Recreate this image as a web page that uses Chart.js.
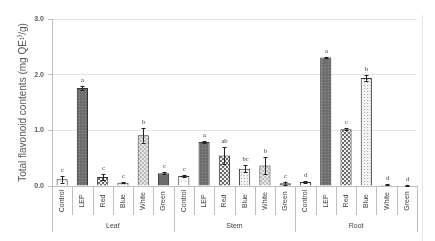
<!DOCTYPE html>
<html><head><meta charset="utf-8">
<script src="https://cdn.jsdelivr.net/npm/chart.js@4"></script>
<style>html,body{margin:0;padding:0;background:#fff}#w{width:435px;height:241px;position:relative}</style>
</head><body><div id="w"><canvas id="c"></canvas></div>
<script>
const groups = ["Leaf", "Stem", "Root"];
const treatments = ["Control", "LEP", "Red", "Blue", "White", "Green"];
const leafValues = [0.12, 1.76, 0.16, 0.06, 0.91, 0.23];
const stemValues = [0.18, 0.79, 0.55, 0.31, 0.37, 0.05];
const rootValues = [0.07, 2.31, 1.02, 1.94, 0.02, 0.01];
const leafErrors = [0.06, 0.04, 0.05, 0.01, 0.13, 0.02];
const stemErrors = [0.02, 0.01, 0.15, 0.06, 0.15, 0.03];
const rootErrors = [0.02, 0.01, 0.02, 0.05, 0.01, 0.01];
const leafLetters = ["c", "a", "c", "c", "b", "c"];
const stemLetters = ["c", "a", "ab", "bc", "b", "c"];
const rootLetters = ["d", "a", "c", "b", "d", "d"];
const yTicks = [0, 1, 2, 3];

const labels = [], values = [], errors = [], letters = [];
[[leafValues, leafErrors, leafLetters], [stemValues, stemErrors, stemLetters], [rootValues, rootErrors, rootLetters]].forEach((g, gi) => {
  treatments.forEach((t, i) => { labels.push(groups[gi] + " " + t); values.push(g[0][i]); errors.push(g[1][i]); letters.push(g[2][i]); });
});

function pat(size, bg, draw) {
  const c = document.createElement('canvas'); c.width = size; c.height = size;
  const x = c.getContext('2d'); x.fillStyle = bg; x.fillRect(0, 0, size, size); draw(x);
  return x.createPattern(c, 'repeat');
}
const ctx0 = document.getElementById('c').getContext('2d');
const fills = [
  pat(4, '#ffffff', x => { x.fillStyle = '#c8c8c8'; x.fillRect(1, 1, 1, 1); }),
  pat(3, '#6e6e6e', x => { x.fillStyle = '#8e8e8e'; x.fillRect(1, 1, 1, 1); }),
  pat(4, '#f0f0f0', x => { x.fillStyle = '#6a6a6a'; x.fillRect(0, 0, 2, 2); x.fillRect(2, 2, 2, 2); }),
  pat(3, '#f2f2f2', x => { x.fillStyle = '#b0b0b0'; x.fillRect(1, 1, 1, 1); }),
  pat(4, '#e4e4e4', x => { x.fillStyle = '#bdbdbd'; x.fillRect(0, 0, 2, 2); x.fillRect(2, 2, 2, 2); }),
  '#6b6b6b'
];
const bg = values.map((v, i) => fills[i % 6]);

const overlay = {
  id: 'overlay',
  afterDatasetsDraw(chart) {
    const c = chart.ctx, xs = chart.scales.x, ys = chart.scales.y;
    c.save();
    c.strokeStyle = '#222'; c.lineWidth = 1;
    values.forEach((v, i) => {
      const x = Math.round(xs.getPixelForValue(i)) + 0.5;
      const yt = ys.getPixelForValue(v + errors[i]), yb = ys.getPixelForValue(Math.max(0, v - errors[i]));
      c.beginPath(); c.moveTo(x, yt); c.lineTo(x, yb);
      c.moveTo(x - 2, Math.round(yt) + 0.5); c.lineTo(x + 2, Math.round(yt) + 0.5);
      c.moveTo(x - 2, Math.round(yb) + 0.5); c.lineTo(x + 2, Math.round(yb) + 0.5);
      c.stroke();
      c.fillStyle = '#333'; c.font = '6.5px "Liberation Serif"'; c.textAlign = 'center'; c.textBaseline = 'alphabetic';
      c.fillText(letters[i], x, yt - 4);
    });
    const step = xs.getPixelForValue(1) - xs.getPixelForValue(0);
    const y0 = chart.chartArea.bottom;
    c.strokeStyle = '#bfbfbf';
    for (let i = 0; i <= values.length; i++) {
      const x = Math.round(xs.getPixelForValue(i) - step / 2) + 0.5;
      const long = i % 6 === 0;
      c.beginPath(); c.moveTo(x, y0); c.lineTo(x, long ? y0 + 46 : y0 + 29); c.stroke();
    }
    c.fillStyle = '#404040'; c.font = '7px "Liberation Sans"';
    values.forEach((v, i) => {
      const x = xs.getPixelForValue(i);
      c.save(); c.translate(x, y0 + 15); c.rotate(-Math.PI / 2);
      c.textAlign = 'center'; c.textBaseline = 'middle'; c.fillText(treatments[i % 6], 0, 0); c.restore();
    });
    c.font = '7px "Liberation Sans"'; c.textAlign = 'center'; c.textBaseline = 'middle';
    groups.forEach((g, gi) => {
      const x = (xs.getPixelForValue(gi * 6) + xs.getPixelForValue(gi * 6 + 5)) / 2;
      c.fillText(g, x, y0 + 40);
    });
    c.strokeStyle = '#e6e6e6';
    c.beginPath(); c.moveTo(422.5, 15); c.lineTo(422.5, 241); c.stroke();
    c.restore();
  }
};

new Chart(ctx0, {
  type: 'bar',
  data: { labels, datasets: [{ data: values, backgroundColor: bg, borderColor: '#333', borderWidth: 1, barPercentage: 0.55, categoryPercentage: 1 }] },
  options: {
    responsive: true, maintainAspectRatio: false, animation: false,
    layout: { padding: { top: 19, right: 18, left: 0, bottom: 0 } },
    plugins: { legend: { display: false }, tooltip: { enabled: false } },
    scales: {
      x: {
        ticks: { display: false }, grid: { display: false },
        border: { display: true, color: '#bfbfbf' },
        afterFit(s) { s.height = 55; }
      },
      y: {
        min: 0, max: 3,
        afterBuildTicks(s) { s.ticks = yTicks.map(v => ({ value: v })); },
        ticks: { callback: v => v.toFixed(1), color: '#595959', font: { family: 'Liberation Sans', size: 7, weight: 'bold' }, padding: 4 },
        grid: { color: '#e3e3e3', tickColor: '#bfbfbf', tickLength: 4 },
        border: { display: true, color: '#bfbfbf' },
        title: { display: true, text: 'Total flavonoid contents (mg QE\u00b9\u207e/g)', color: '#595959', font: { family: 'Liberation Sans', size: 10 }, padding: { top: 17, bottom: 0 } },
        afterFit(s) { s.width = 52; }
      }
    }
  },
  plugins: [overlay]
});
</script></body></html>
